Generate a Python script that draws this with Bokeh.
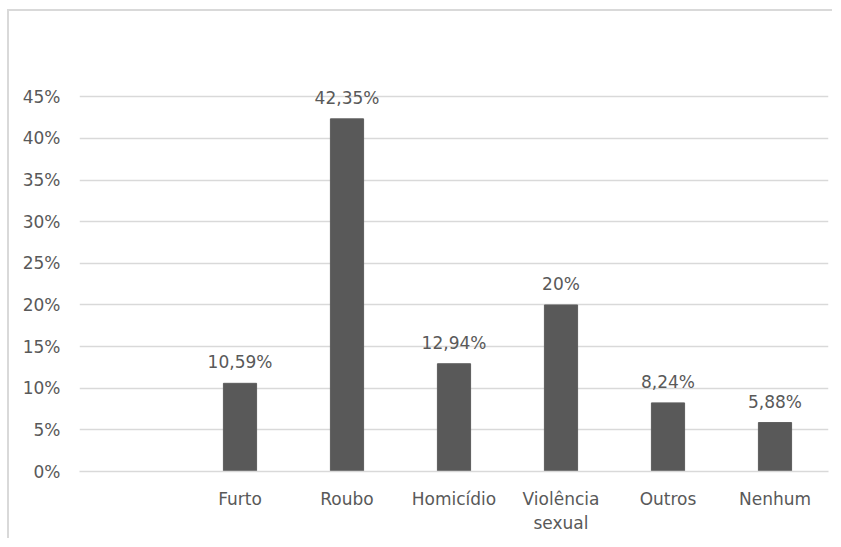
from bokeh.plotting import figure
from bokeh.models import ColumnDataSource, FixedTicker
from bokeh.embed import file_html
from bokeh.resources import INLINE
from bokeh.core.properties import value

# Data
categories = [" ", "Furto", "Roubo", "Homicídio", "Violência\nsexual", "Outros", "Nenhum"]
bar_categories = ["Furto", "Roubo", "Homicídio", "Violência\nsexual", "Outros", "Nenhum"]
values = [10.59, 42.35, 12.94, 20, 8.24, 5.88]
value_labels = ["10,59%", "42,35%", "12,94%", "20%", "8,24%", "5,88%"]
y_ticks = [0, 5, 10, 15, 20, 25, 30, 35, 40, 45]
y_tick_labels = [f"{t}%" for t in y_ticks]

FONT = "DejaVu Sans"
TXT = "#595959"
GRID = "#d9d9d9"
FS = "17px"

src = ColumnDataSource(dict(x=bar_categories, top=values, lab=value_labels))

p = figure(
    x_range=categories, y_range=(0, 52),
    width=825, height=529,
    output_backend="svg", toolbar_location=None,
    min_border_left=70, min_border_right=6,
    min_border_top=27, min_border_bottom=69,
)
p.styles = {"border-top": f"2px solid {GRID}", "border-left": f"2px solid {GRID}",
            "margin-top": "9px", "margin-left": "7px"}

p.vbar(x="x", top="top", width=0.31, source=src, fill_color="#595959", line_color="#5e5e5e")
p.text(x="x", y="top", text="lab", source=src, text_align="center",
       text_baseline="alphabetic", y_offset=-21, text_font=value(FONT),
       text_font_size=FS, text_color=TXT)

p.outline_line_color = None
p.background_fill_color = "white"
p.border_fill_color = "white"

p.xgrid.grid_line_color = None
p.ygrid.grid_line_color = GRID
p.ygrid.grid_line_width = 1.5

p.yaxis.ticker = FixedTicker(ticks=y_ticks)
p.yaxis.major_label_overrides = {t: l for t, l in zip(y_ticks, y_tick_labels)}
p.yaxis.axis_line_color = None
p.yaxis.major_tick_line_color = None
p.yaxis.minor_tick_line_color = None
p.yaxis.major_label_standoff = 13
p.yaxis.major_label_text_font = FONT
p.yaxis.major_label_text_font_size = FS
p.yaxis.major_label_text_color = TXT

p.xaxis.axis_line_color = GRID
p.xaxis.axis_line_width = 1.5
p.xaxis.major_tick_line_color = None
p.xaxis.minor_tick_line_color = None
p.xaxis.major_label_standoff = 11
p.xaxis.major_label_text_font = FONT
p.xaxis.major_label_text_font_size = FS
p.xaxis.major_label_text_color = TXT

open("out.html", "w").write(file_html(p, INLINE))
